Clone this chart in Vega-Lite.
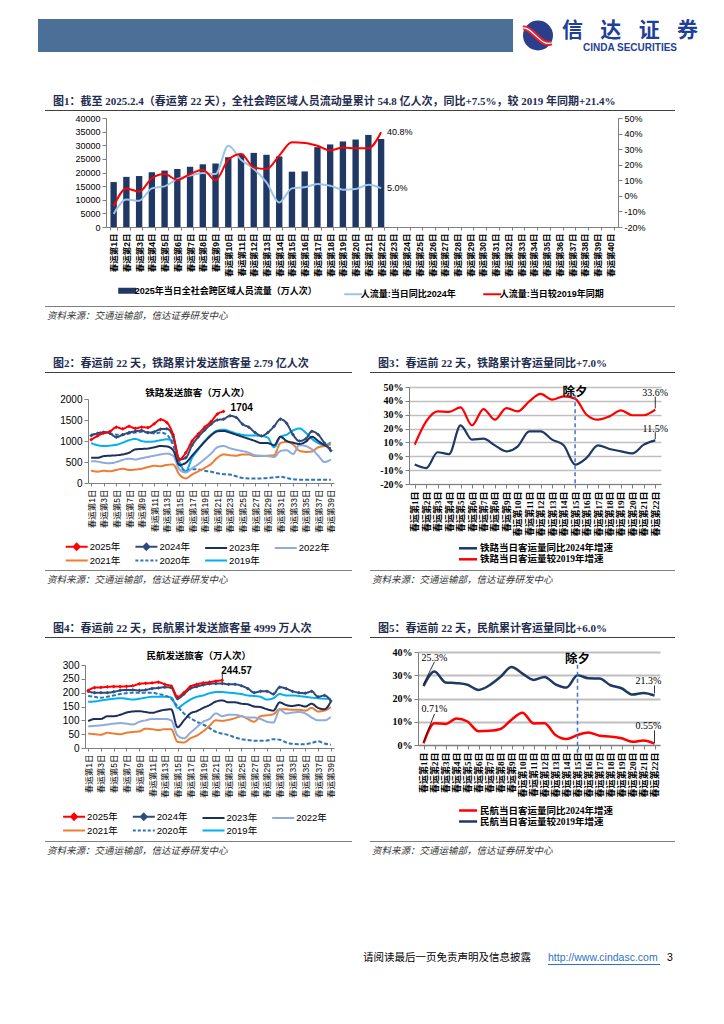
{
"$schema": "https://vega.github.io/schema/vega-lite/v6.json",
"padding": 0,
"background": "#ffffff",
"spacing": 0,
"resolve": {"scale": {"color": "independent", "strokeDash": "independent"}, "legend": {"color": "independent"}},
"config": {
  "view": {"stroke": null},
  "concat": {"spacing": 0},
  "font": "Liberation Sans, Noto Sans CJK SC",
  "axis": {"domainColor": "#7f7f7f", "tickColor": "#7f7f7f", "labelColor": "#000000", "grid": false, "labelFont": "Liberation Sans, Noto Sans CJK SC"},
  "legend": {"labelColor": "#000000", "labelFont": "Liberation Sans, Noto Sans CJK SC", "labelLimit": 400}
},
"datasets": {
  "fig1": [
    {"d":1,"flow":16500,"yoy":-11.6,"vs2019":-6.7},
    {"d":2,"flow":18400,"yoy":-2.4,"vs2019":4.8},
    {"d":3,"flow":18700,"yoy":-3.1,"vs2019":2.7},
    {"d":4,"flow":20100,"yoy":4.8,"vs2019":11.3},
    {"d":5,"flow":20700,"yoy":6.1,"vs2019":14.0},
    {"d":6,"flow":21300,"yoy":10.8,"vs2019":10.2},
    {"d":7,"flow":22100,"yoy":13.0,"vs2019":14.0},
    {"d":8,"flow":23000,"yoy":14.7,"vs2019":16.8},
    {"d":9,"flow":23300,"yoy":14.0,"vs2019":10.0},
    {"d":10,"flow":25600,"yoy":32.2,"vs2019":23.2},
    {"d":11,"flow":26900,"yoy":23.2,"vs2019":26.9},
    {"d":12,"flow":27200,"yoy":17.3,"vs2019":18.3},
    {"d":13,"flow":26500,"yoy":8.7,"vs2019":17.3},
    {"d":14,"flow":25900,"yoy":-4.2,"vs2019":25.8},
    {"d":15,"flow":20300,"yoy":4.8,"vs2019":34.4},
    {"d":16,"flow":20400,"yoy":5.5,"vs2019":34.0},
    {"d":17,"flow":29300,"yoy":7.6,"vs2019":32.2},
    {"d":18,"flow":30300,"yoy":6.5,"vs2019":29.2},
    {"d":19,"flow":31400,"yoy":4.0,"vs2019":31.0},
    {"d":20,"flow":32100,"yoy":4.4,"vs2019":30.5},
    {"d":21,"flow":33800,"yoy":7.2,"vs2019":30.5},
    {"d":22,"flow":32300,"yoy":5.0,"vs2019":40.8}
  ],
  "fig2": [
    {"d":1,"2019年":950,"2020年":1150,"2021年":300,"2022年":520,"2023年":600,"2024年":1130,"2025年":1030},
    {"d":2,"2019年":900,"2020年":1180,"2021年":270,"2022年":510,"2023年":600,"2024年":1180,"2025年":1120},
    {"d":3,"2019年":880,"2020年":1200,"2021年":290,"2022年":480,"2023年":640,"2024年":1210,"2025年":1190},
    {"d":4,"2019年":890,"2020年":1180,"2021年":280,"2022年":470,"2023年":650,"2024年":1180,"2025年":1230},
    {"d":5,"2019年":910,"2020年":1150,"2021年":310,"2022年":500,"2023年":660,"2024年":1090,"2025年":1330},
    {"d":6,"2019年":960,"2020年":1150,"2021年":340,"2022年":550,"2023年":680,"2024年":1150,"2025年":1290},
    {"d":7,"2019年":1020,"2020年":1180,"2021年":310,"2022年":580,"2023年":720,"2024年":1200,"2025年":1350},
    {"d":8,"2019年":1050,"2020年":1200,"2021年":320,"2022年":560,"2023年":800,"2024年":1230,"2025年":1300},
    {"d":9,"2019年":1000,"2020年":1220,"2021年":340,"2022年":590,"2023年":810,"2024年":1250,"2025年":1330},
    {"d":10,"2019年":980,"2020年":1200,"2021年":380,"2022年":620,"2023年":820,"2024年":1200,"2025年":1320},
    {"d":11,"2019年":990,"2020年":1180,"2021年":410,"2022年":650,"2023年":850,"2024年":1220,"2025年":1410},
    {"d":12,"2019年":1020,"2020年":1200,"2021年":400,"2022年":680,"2023年":880,"2024年":1280,"2025年":1510},
    {"d":13,"2019年":1040,"2020年":1150,"2021年":430,"2022年":700,"2023年":870,"2024年":1290,"2025年":1440},
    {"d":14,"2019年":1000,"2020年":900,"2021年":440,"2022年":650,"2023年":780,"2024年":1100,"2025年":1150},
    {"d":15,"2019年":500,"2020年":450,"2021年":200,"2022年":320,"2023年":430,"2024年":560,"2025年":560},
    {"d":16,"2019年":280,"2020年":280,"2021年":110,"2022年":250,"2023年":480,"2024年":600,"2025年":720},
    {"d":17,"2019年":600,"2020年":330,"2021年":200,"2022年":350,"2023年":650,"2024年":900,"2025年":1000},
    {"d":18,"2019年":800,"2020年":320,"2021年":280,"2022年":450,"2023年":820,"2024年":1100,"2025年":1170},
    {"d":19,"2019年":1000,"2020年":290,"2021年":360,"2022年":570,"2023年":980,"2024年":1260,"2025年":1330},
    {"d":20,"2019年":1150,"2020年":270,"2021年":450,"2022年":700,"2023年":1130,"2024年":1400,"2025年":1460},
    {"d":21,"2019年":1250,"2020年":230,"2021年":600,"2022年":850,"2023年":1230,"2024年":1500,"2025年":1640},
    {"d":22,"2019年":1270,"2020年":210,"2021年":680,"2022年":880,"2023年":1240,"2024年":1520,"2025年":1704},
    {"d":23,"2019年":1230,"2020年":200,"2021年":660,"2022年":830,"2023年":1200,"2024年":1600},
    {"d":24,"2019年":1180,"2020年":160,"2021年":650,"2022年":790,"2023年":1150,"2024年":1560},
    {"d":25,"2019年":1150,"2020年":120,"2021年":680,"2022年":760,"2023年":1100,"2024年":1400},
    {"d":26,"2019年":1130,"2020年":110,"2021年":680,"2022年":720,"2023年":1050,"2024年":1330},
    {"d":27,"2019年":1130,"2020年":110,"2021年":640,"2022年":660,"2023年":1000,"2024年":1200},
    {"d":28,"2019年":1120,"2020年":110,"2021年":640,"2022年":650,"2023年":950,"2024年":1120},
    {"d":29,"2019年":1080,"2020年":120,"2021年":650,"2022年":640,"2023年":950,"2024年":1200},
    {"d":30,"2019年":850,"2020年":130,"2021年":660,"2022年":620,"2023年":900,"2024年":1350},
    {"d":31,"2019年":1100,"2020年":150,"2021年":950,"2022年":760,"2023年":1100,"2024年":1520},
    {"d":32,"2019年":1150,"2020年":120,"2021年":980,"2022年":780,"2023年":1000,"2024年":1420},
    {"d":33,"2019年":1250,"2020年":90,"2021年":920,"2022年":690,"2023年":960,"2024年":1150},
    {"d":34,"2019年":1300,"2020年":80,"2021年":770,"2022年":900,"2023年":930,"2024年":1000},
    {"d":35,"2019年":1200,"2020年":80,"2021年":740,"2022年":880,"2023年":980,"2024年":1050},
    {"d":36,"2019年":1050,"2020年":80,"2021年":750,"2022年":800,"2023年":1100,"2024年":1230},
    {"d":37,"2019年":950,"2020年":80,"2021年":850,"2022年":650,"2023年":1000,"2024年":1150},
    {"d":38,"2019年":900,"2020年":80,"2021年":880,"2022年":500,"2023年":900,"2024年":950},
    {"d":39,"2019年":970,"2020年":80,"2021年":920,"2022年":560,"2023年":820,"2024年":770}
  ],
  "fig3": [
    {"d":1,"yoy":-6.0,"vs2019":8.4},{"d":2,"yoy":-8.5,"vs2019":25.2},{"d":3,"yoy":2.9,"vs2019":32.4},
    {"d":4,"yoy":1.6,"vs2019":32.0},{"d":5,"yoy":22.3,"vs2019":35.3},{"d":6,"yoy":12.0,"vs2019":22.3},
    {"d":7,"yoy":12.7,"vs2019":34.1},{"d":8,"yoy":7.9,"vs2019":26.4},{"d":9,"yoy":3.6,"vs2019":34.8},
    {"d":10,"yoy":7.2,"vs2019":32.4},{"d":11,"yoy":18.0,"vs2019":39.7},{"d":12,"yoy":18.0,"vs2019":45.0},
    {"d":13,"yoy":12.0,"vs2019":40.9},{"d":14,"yoy":7.9,"vs2019":43.3},{"d":15,"yoy":-6.0,"vs2019":41.6},
    {"d":16,"yoy":-1.2,"vs2019":30.0},{"d":17,"yoy":7.9,"vs2019":26.4},{"d":18,"yoy":5.3,"vs2019":28.8},
    {"d":19,"yoy":3.6,"vs2019":33.2},{"d":20,"yoy":2.1,"vs2019":29.6},{"d":21,"yoy":8.4,"vs2019":29.6},
    {"d":22,"yoy":11.5,"vs2019":33.6}
  ],
  "fig4": [
    {"d":1,"2019年":167,"2020年":188,"2021年":52,"2022年":78,"2023年":97,"2024年":205,"2025年":208},
    {"d":2,"2019年":168,"2020年":185,"2021年":50,"2022年":80,"2023年":105,"2024年":200,"2025年":218},
    {"d":3,"2019年":172,"2020年":182,"2021年":48,"2022年":82,"2023年":105,"2024年":200,"2025年":219},
    {"d":4,"2019年":175,"2020年":185,"2021年":55,"2022年":85,"2023年":115,"2024年":200,"2025年":221},
    {"d":5,"2019年":178,"2020年":190,"2021年":52,"2022年":88,"2023年":115,"2024年":203,"2025年":222},
    {"d":6,"2019年":180,"2020年":195,"2021年":50,"2022年":90,"2023年":120,"2024年":208,"2025年":222},
    {"d":7,"2019年":178,"2020年":198,"2021年":55,"2022年":88,"2023年":128,"2024年":210,"2025年":223},
    {"d":8,"2019年":175,"2020年":200,"2021年":58,"2022年":85,"2023年":132,"2024年":210,"2025年":225},
    {"d":9,"2019年":178,"2020年":200,"2021年":60,"2022年":95,"2023年":133,"2024年":208,"2025年":232},
    {"d":10,"2019年":182,"2020年":200,"2021年":70,"2022年":100,"2023年":130,"2024年":210,"2025年":234},
    {"d":11,"2019年":185,"2020年":200,"2021年":68,"2022年":105,"2023年":127,"2024年":215,"2025年":235},
    {"d":12,"2019年":185,"2020年":195,"2021年":65,"2022年":105,"2023年":133,"2024年":217,"2025年":238},
    {"d":13,"2019年":185,"2020年":190,"2021年":68,"2022年":105,"2023年":138,"2024年":220,"2025年":230},
    {"d":14,"2019年":183,"2020年":178,"2021年":68,"2022年":100,"2023年":140,"2024年":218,"2025年":224},
    {"d":15,"2019年":145,"2020年":150,"2021年":22,"2022年":45,"2023年":75,"2024年":178,"2025年":185},
    {"d":16,"2019年":160,"2020年":125,"2021年":20,"2022年":35,"2023年":100,"2024年":195,"2025年":200},
    {"d":17,"2019年":175,"2020年":108,"2021年":35,"2022年":55,"2023年":125,"2024年":215,"2025年":222},
    {"d":18,"2019年":185,"2020年":95,"2021年":45,"2022年":75,"2023年":133,"2024年":222,"2025年":230},
    {"d":19,"2019年":190,"2020年":85,"2021年":60,"2022年":95,"2023年":145,"2024年":228,"2025年":235},
    {"d":20,"2019年":198,"2020年":72,"2021年":80,"2022年":105,"2023年":155,"2024年":232,"2025年":238},
    {"d":21,"2019年":202,"2020年":58,"2021年":100,"2022年":125,"2023年":168,"2024年":233,"2025年":242},
    {"d":22,"2019年":202,"2020年":52,"2021年":98,"2022年":115,"2023年":172,"2024年":233,"2025年":244.57},
    {"d":23,"2019年":200,"2020年":47,"2021年":102,"2022年":120,"2023年":165,"2024年":230},
    {"d":24,"2019年":198,"2020年":38,"2021年":108,"2022年":120,"2023年":165,"2024年":230},
    {"d":25,"2019年":195,"2020年":32,"2021年":115,"2022年":115,"2023年":160,"2024年":225},
    {"d":26,"2019年":190,"2020年":29,"2021年":105,"2022年":110,"2023年":158,"2024年":215},
    {"d":27,"2019年":188,"2020年":26,"2021年":95,"2022年":110,"2023年":150,"2024年":200},
    {"d":28,"2019年":185,"2020年":26,"2021年":115,"2022年":105,"2023年":148,"2024年":205},
    {"d":29,"2019年":175,"2020年":27,"2021年":118,"2022年":95,"2023年":140,"2024年":205},
    {"d":30,"2019年":180,"2020年":32,"2021年":122,"2022年":92,"2023年":135,"2024年":195},
    {"d":31,"2019年":195,"2020年":30,"2021年":140,"2022年":138,"2023年":165,"2024年":220},
    {"d":32,"2019年":190,"2020年":20,"2021年":140,"2022年":125,"2023年":155,"2024年":215},
    {"d":33,"2019年":190,"2020年":15,"2021年":138,"2022年":128,"2023年":152,"2024年":205},
    {"d":34,"2019年":188,"2020年":14,"2021年":138,"2022年":130,"2023年":155,"2024年":200},
    {"d":35,"2019年":185,"2020年":14,"2021年":135,"2022年":125,"2023年":150,"2024年":198},
    {"d":36,"2019年":182,"2020年":18,"2021年":145,"2022年":110,"2023年":160,"2024年":205},
    {"d":37,"2019年":180,"2020年":24,"2021年":132,"2022年":100,"2023年":145,"2024年":185},
    {"d":38,"2019年":178,"2020年":16,"2021年":135,"2022年":100,"2023年":140,"2024年":190},
    {"d":39,"2019年":178,"2020年":12,"2021年":148,"2022年":112,"2023年":168,"2024年":170}
  ],
  "fig5": [
    {"d":1,"yoy":0.71,"vs2019":25.3},{"d":2,"yoy":9.4,"vs2019":31.6},{"d":3,"yoy":9.0,"vs2019":26.9},
    {"d":4,"yoy":11.4,"vs2019":26.6},{"d":5,"yoy":10.1,"vs2019":25.9},{"d":6,"yoy":5.9,"vs2019":23.7},
    {"d":7,"yoy":6.1,"vs2019":25.7},{"d":8,"yoy":6.9,"vs2019":29.3},{"d":9,"yoy":10.9,"vs2019":33.6},
    {"d":10,"yoy":13.9,"vs2019":30.7},{"d":11,"yoy":9.3,"vs2019":28.0},{"d":12,"yoy":9.4,"vs2019":29.3},
    {"d":13,"yoy":4.3,"vs2019":26.1},{"d":14,"yoy":2.6,"vs2019":24.7},{"d":15,"yoy":4.3,"vs2019":30.0},
    {"d":16,"yoy":5.4,"vs2019":28.7},{"d":17,"yoy":4.0,"vs2019":28.6},{"d":18,"yoy":3.6,"vs2019":25.7},
    {"d":19,"yoy":2.9,"vs2019":24.4},{"d":20,"yoy":1.4,"vs2019":21.7},{"d":21,"yoy":1.9,"vs2019":22.4},
    {"d":22,"yoy":0.55,"vs2019":21.3}
  ]
},
"vconcat": [
  {"width": 1, "height": 17, "data": {"values": []}, "mark": "point"},
  {"hconcat": [
    {"width": 38, "height": 33, "data": {"values": []}, "mark": "point"},
    {"width": 475, "height": 33, "data": {"values": []}, "mark": "point", "view": {"fill": "#4b6f96", "stroke": null}},
    {"width": 32, "height": 33, "data": {"values": [{}]}, "layer": [
      {"mark": {"type": "point", "shape": "circle", "size": 900, "filled": true, "color": "#2a3e8c", "opacity": 1}},
      {"mark": {"type": "point", "shape": "M-1.0,-0.5C-0.4,-0.6 0.15,0.75 0.9,0.5", "size": 900, "filled": false, "stroke": "#e8202a", "strokeWidth": 5, "opacity": 1}},
      {"mark": {"type": "point", "shape": "M-1.0,-0.5C-0.4,-0.6 0.15,0.75 0.9,0.5", "size": 900, "filled": false, "stroke": "#ffffff", "strokeWidth": 1.2, "opacity": 1}}
    ]},
    {"vconcat": [
      {"width": 134, "height": 24, "data": {"values": [{"c": "信"}, {"c": "达"}, {"c": "证"}, {"c": "券"}]},
       "mark": {"type": "text", "fontSize": 21, "fontWeight": "bold", "font": "Noto Sans CJK SC", "color": "#1f3f98"},
       "encoding": {"x": {"field": "c", "type": "nominal", "sort": null, "axis": null, "scale": {"type": "point", "padding": 0.25}}, "text": {"field": "c"}}},
      {"width": 134, "height": 10, "data": {"values": [{"t": "CINDA SECURITIES"}]},
       "mark": {"type": "text", "fontSize": 10, "fontWeight": "bold", "font": "Liberation Sans", "color": "#1f3f98"},
       "encoding": {"text": {"field": "t"}}}
    ], "resolve": {"scale": {"x": "independent"}}}
  ], "resolve": {"scale": {"color": "independent"}}},
  {"width": 1, "height": 42, "data": {"values": []}, "mark": "point"},
  {"hconcat": [
    {"width": 45, "height": 1, "data": {"values": []}, "mark": "point"},
    {"width": 630, "height": 1, "data": {"values": []}, "mark": "point", "view": {"fill": "#404040", "stroke": null},
     "title": {"text": "图1：截至 2025.2.4（春运第 22 天），全社会跨区域人员流动量累计 54.8 亿人次，同比+7.5%，较 2019 年同期+21.4%", "anchor": "start", "offset": 3, "dx": 8, "font": "Liberation Serif, Noto Sans CJK SC", "fontSize": 11, "fontWeight": "bold", "color": "#1f2d4f"}}
  ]},
  {"width": 1, "height": 3, "data": {"values": []}, "mark": "point"},
  {"hconcat": [
    {"width": 74, "height": 1, "data": {"values": []}, "mark": "point"},
    {"width": 512, "height": 109,
     "layer": [
       {"data": {"name": "fig1"},
        "mark": {"type": "bar"},
        "encoding": {
          "x": {"field": "d", "type": "ordinal", "title": null,
                "scale": {"domain": [1,2,3,4,5,6,7,8,9,10,11,12,13,14,15,16,17,18,19,20,21,22,23,24,25,26,27,28,29,30,31,32,33,34,35,36,37,38,39,40], "paddingInner": 0.5, "paddingOuter": 0.35},
                "axis": {"labelExpr": "isValid(datum.value) ? '春运第' + datum.value + '日' : ''", "labelAngle": -90, "labelFontSize": 8.5, "labelFontWeight": "bold", "tickBand": "extent", "tickSize": 3, "labelPadding": 3}},
          "y": {"field": "flow", "type": "quantitative", "title": null,
                "scale": {"domain": [0, 40000], "nice": false},
                "axis": {"values": [0,5000,10000,15000,20000,25000,30000,35000,40000], "format": "d", "labelFontSize": 9, "tickSize": 4, "labelPadding": 2}},
          "color": {"datum": "flow", "type": "nominal", "scale": {"domain": ["flow", "yoy", "vs2019"], "range": ["#1f3864", "#9dc3e6", "#ff0000"]}}
        }},
       {"layer": [
          {"data": {"name": "fig1"},
           "transform": [{"fold": ["yoy", "vs2019"], "as": ["series", "value"]}],
           "mark": {"type": "line", "strokeWidth": 2, "interpolate": "monotone"},
           "encoding": {
             "x": {"field": "d", "type": "ordinal"},
             "y": {"field": "value", "type": "quantitative"},
             "color": {"field": "series", "type": "nominal",
                       "scale": {"domain": ["flow", "yoy", "vs2019"], "range": ["#1f3864", "#9dc3e6", "#ff0000"]},
                       "legend": {"orient": "none", "legendX": 16.7, "legendY": 168, "direction": "horizontal", "title": null,
                                  "symbolType": "stroke", "symbolSize": 324, "symbolStrokeWidth": 2, "labelFontSize": 9, "labelFontWeight": "bold",
                                  "columnPadding": 22, "labelOffset": 3, "labelLimit": 400,
                                  "labelExpr": "datum.label === 'flow' ? '2025年当日全社会跨区域人员流量（万人次）' : datum.label === 'yoy' ? '人流量:当日同比2024年' : '人流量:当日较2019年同期'",
                                  "encode": {"symbols": {"update": {
                                    "strokeWidth": {"signal": "datum.value === 'flow' ? 6 : 2"},
                                    "stroke": {"signal": "datum.value === 'flow' ? '#1f3864' : datum.value === 'yoy' ? '#9dc3e6' : '#ff0000'"},
                                    "fill": {"value": "transparent"}}}}}}
           }},
          {"data": {"values": [{"d": 22, "value": 40.8, "t": "40.8%"}, {"d": 22, "value": 5.0, "t": "5.0%"}]},
           "mark": {"type": "text", "align": "left", "dx": 6, "fontSize": 9, "color": "#000000"},
           "encoding": {
             "x": {"field": "d", "type": "ordinal"},
             "y": {"field": "value", "type": "quantitative"},
             "text": {"field": "t"}}}
        ],
        "encoding": {"y": {"field": "value", "type": "quantitative", "title": null,
                           "scale": {"domain": [-20, 50], "nice": false, "zero": false},
                           "axis": {"orient": "right", "values": [-20,-10,0,10,20,30,40,50], "labelExpr": "datum.value + '%'", "labelFontSize": 9, "tickSize": 4, "labelPadding": 2}}}}
     ],
     "resolve": {"scale": {"y": "independent"}}
    }
  ], "resolve": {"scale": {"color": "independent"}, "legend": {"color": "independent"}}},
  {"width": 1, "height": 3, "data": {"values": []}, "mark": "point"},
  {"hconcat": [
    {"width": 45, "height": 1, "data": {"values": []}, "mark": "point"},
    {"width": 630, "height": 1, "data": {"values": []}, "mark": "point", "view": {"fill": "#7f7f7f", "stroke": null},
     "title": {"text": "资料来源：交通运输部，信达证券研发中心", "orient": "bottom", "anchor": "start", "offset": 4, "dx": 2, "font": "Liberation Serif, Noto Sans CJK SC", "fontSize": 9.5, "fontStyle": "italic", "fontWeight": "normal", "color": "#333333"}}
  ]},
  {"width": 1, "height": 37, "data": {"values": []}, "mark": "point"},
  {"hconcat": [
    {"width": 45, "height": 1, "data": {"values": []}, "mark": "point"},
    {"width": 307, "height": 1, "data": {"values": []}, "mark": "point", "view": {"fill": "#404040", "stroke": null},
     "title": {"text": "图2：春运前 22 天，铁路累计发送旅客量 2.79 亿人次", "anchor": "start", "offset": 3, "dx": 8, "font": "Liberation Serif, Noto Sans CJK SC", "fontSize": 11, "fontWeight": "bold", "color": "#1f2d4f"}},
    {"width": 18, "height": 1, "data": {"values": []}, "mark": "point"},
    {"width": 305, "height": 1, "data": {"values": []}, "mark": "point", "view": {"fill": "#404040", "stroke": null},
     "title": {"text": "图3：春运前 22 天，铁路累计客运量同比+7.0%", "anchor": "start", "offset": 3, "dx": 8, "font": "Liberation Serif, Noto Sans CJK SC", "fontSize": 11, "fontWeight": "bold", "color": "#1f2d4f"}}
  ]},
  {"width": 1, "height": 2, "data": {"values": []}, "mark": "point"},
  {"hconcat": [
    {"width": 58.5, "height": 1, "data": {"values": []}, "mark": "point"},
    {"vconcat": [
      {"width": 1, "height": 12, "data": {"values": []}, "mark": "point"},
      {"width": 246, "height": 84,
       "title": {"text": "铁路发送旅客（万人次）", "fontSize": 9.5, "fontWeight": "bold", "offset": -3, "frame": "bounds", "anchor": "middle", "color": "#000000"},
       "data": {"name": "fig2"},
       "transform": [{"fold": ["2019年", "2020年", "2021年", "2022年", "2023年", "2024年", "2025年"], "as": ["series", "value"]}, {"filter": "isValid(datum.value)"}],
       "encoding": {
         "x": {"field": "d", "type": "ordinal", "title": null,
               "scale": {"type": "point", "padding": 0.5, "domain": [1,2,3,4,5,6,7,8,9,10,11,12,13,14,15,16,17,18,19,20,21,22,23,24,25,26,27,28,29,30,31,32,33,34,35,36,37,38,39]},
               "axis": {"values": [1,3,5,7,9,11,13,15,17,19,21,23,25,27,29,31,33,35,37,39], "labelExpr": "'春运第' + datum.value + '日'", "labelAngle": -90, "labelFontSize": 8.5, "tickSize": 3, "labelPadding": 3}},
         "y": {"field": "value", "type": "quantitative", "title": null,
               "scale": {"domain": [0, 2000], "nice": false},
               "axis": {"values": [0, 500, 1000, 1500, 2000], "format": "d", "labelFontSize": 10, "tickSize": 4, "labelPadding": 2}},
         "color": {"field": "series", "type": "nominal",
                   "scale": {"domain": ["2025年", "2024年", "2023年", "2022年", "2021年", "2020年", "2019年"], "range": ["#ff0000", "#2f4b7c", "#1c2f5a", "#8faadc", "#ed7d31", "#2e75b6", "#00b0f0"]},
                   "legend": {"orient": "none", "legendX": -17.8, "legendY": 165, "direction": "horizontal", "columns": 4, "title": null,
                              "symbolType": "M-2,0H2", "symbolSize": 121, "symbolStrokeWidth": 2, "labelFontSize": 9.5, "columnPadding": 9.7, "rowPadding": -2, "labelOffset": 6.5,
                              "encode": {"symbols": {"update": {
                                "shape": {"signal": "datum.value === '2025年' || datum.value === '2024年' ? 'M-2,0H2M0,-0.55L0.55,0L0,0.55L-0.55,0Z' : 'M-2,0H2'"},
                                "strokeDash": {"signal": "datum.value === '2020年' ? [3, 2] : [1, 0]"},
                                "stroke": {"signal": "({'2025年':'#ff0000','2024年':'#2f4b7c','2023年':'#1c2f5a','2022年':'#8faadc','2021年':'#ed7d31','2020年':'#2e75b6','2019年':'#00b0f0'})[datum.value]"},
                                "fill": {"signal": "({'2025年':'#ff0000','2024年':'#2f4b7c','2023年':'#1c2f5a','2022年':'#8faadc','2021年':'#ed7d31','2020年':'#2e75b6','2019年':'#00b0f0'})[datum.value]"},
                                "strokeWidth": {"value": 2}}}}}}
       },
       "layer": [
         {"mark": {"type": "line", "strokeWidth": 2, "interpolate": "monotone"},
          "encoding": {"strokeDash": {"condition": {"test": "datum.series === '2020年'", "value": [4, 2]}, "value": [1, 0]}}},
         {"transform": [{"filter": "datum.series === '2025年' || datum.series === '2024年'"}],
          "mark": {"type": "point", "shape": "diamond", "filled": true, "size": 14, "opacity": 1}},
         {"data": {"values": [{"d": 22, "value": 1704, "t": "1704"}]},
          "mark": {"type": "text", "align": "left", "dx": 7, "dy": -3, "fontSize": 10, "fontWeight": "bold", "color": "#000000"},
          "encoding": {"text": {"field": "t"}, "color": {"value": "#000000"}}}
       ]
      }
    ]},
    {"width": 42.7, "height": 1, "data": {"values": []}, "mark": "point"},
    {"vconcat": [
      {"width": 1, "height": 6.1, "data": {"values": []}, "mark": "point"},
      {"width": 252, "height": 97,
       "data": {"name": "fig3"},
       "transform": [{"fold": ["yoy", "vs2019"], "as": ["series", "value"]}],
       "encoding": {
         "x": {"field": "d", "type": "ordinal", "title": null,
               "scale": {"type": "point", "padding": 0.5, "domain": [1,2,3,4,5,6,7,8,9,10,11,12,13,14,15,16,17,18,19,20,21,22]},
               "axis": {"labelExpr": "'春运第' + datum.value + '日'", "labelAngle": -90, "labelFont": "Liberation Serif, Noto Sans CJK SC", "labelFontSize": 9, "labelFontWeight": "bold", "tickSize": 4, "labelPadding": 3}},
         "y": {"field": "value", "type": "quantitative", "title": null,
               "scale": {"domain": [-20, 50], "nice": false, "zero": false},
               "axis": {"values": [-20,-10,0,10,20,30,40,50], "labelExpr": "datum.value + '%'", "grid": true, "gridColor": "#bfbfbf", "gridWidth": 1.5,
                        "labelFont": "Liberation Serif, Noto Sans CJK SC", "labelFontSize": 10, "labelFontWeight": "bold", "tickSize": 4, "labelPadding": 2}}
       },
       "layer": [
         {"mark": {"type": "line", "strokeWidth": 2.2, "interpolate": "monotone"},
          "encoding": {"color": {"field": "series", "type": "nominal",
                                 "scale": {"domain": ["yoy", "vs2019"], "range": ["#1f3864", "#ff0000"]},
                                 "legend": {"orient": "none", "legendX": 53, "legendY": 167.3, "direction": "vertical", "title": null,
                                            "symbolType": "M-2,0H2", "symbolSize": 81, "symbolStrokeWidth": 2.5,
                                            "labelFont": "Liberation Serif, Noto Sans CJK SC", "labelFontSize": 9.5, "labelFontWeight": "bold", "rowPadding": 0, "labelOffset": 6,
                                            "labelExpr": "datum.label === 'yoy' ? '铁路当日客运量同比2024年增速' : '铁路当日客运量较2019年增速'"}}}},
         {"data": {"values": [{"d": 15, "value": 44, "value2": -22}]},
          "mark": {"type": "rule", "color": "#4472c4", "strokeDash": [4, 3], "strokeWidth": 1.5},
          "encoding": {"y2": {"field": "value2"}}},
         {"data": {"values": [{"d": 15, "value": 46.3, "t": "除夕"}]},
          "mark": {"type": "text", "fontSize": 12.5, "fontWeight": "bold", "color": "#000000"},
          "encoding": {"text": {"field": "t"}}},
         {"data": {"values": [{"d": 22, "value": 45.7, "t": "33.6%"}, {"d": 22, "value": 20, "t": "11.5%"}]},
          "mark": {"type": "text", "fontSize": 10, "font": "Liberation Serif", "color": "#000000"},
          "encoding": {"text": {"field": "t"}}},
         {"data": {"values": [{"d": 22, "value": 34.5, "value2": 43}, {"d": 22, "value": 12.3, "value2": 17.4}]},
          "mark": {"type": "rule", "color": "#000000", "strokeWidth": 0.8},
          "encoding": {"y2": {"field": "value2"}}}
       ]
      }
    ]}
  ], "resolve": {"scale": {"color": "independent", "strokeDash": "independent"}, "legend": {"color": "independent"}}},
  {"width": 1, "height": 4.5, "data": {"values": []}, "mark": "point"},
  {"hconcat": [
    {"width": 45, "height": 1, "data": {"values": []}, "mark": "point"},
    {"width": 307, "height": 1, "data": {"values": []}, "mark": "point", "view": {"fill": "#7f7f7f", "stroke": null},
     "title": {"text": "资料来源：交通运输部，信达证券研发中心", "orient": "bottom", "anchor": "start", "offset": 4, "dx": 2, "font": "Liberation Serif, Noto Sans CJK SC", "fontSize": 9.5, "fontStyle": "italic", "fontWeight": "normal", "color": "#333333"}},
    {"width": 18, "height": 1, "data": {"values": []}, "mark": "point"},
    {"width": 305, "height": 1, "data": {"values": []}, "mark": "point", "view": {"fill": "#7f7f7f", "stroke": null},
     "title": {"text": "资料来源：交通运输部，信达证券研发中心", "orient": "bottom", "anchor": "start", "offset": 4, "dx": 2, "font": "Liberation Serif, Noto Sans CJK SC", "fontSize": 9.5, "fontStyle": "italic", "fontWeight": "normal", "color": "#333333"}}
  ]},
  {"width": 1, "height": 38, "data": {"values": []}, "mark": "point"},
  {"hconcat": [
    {"width": 45, "height": 1, "data": {"values": []}, "mark": "point"},
    {"width": 307, "height": 1, "data": {"values": []}, "mark": "point", "view": {"fill": "#404040", "stroke": null},
     "title": {"text": "图4：春运前 22 天，民航累计发送旅客量 4999 万人次", "anchor": "start", "offset": 3, "dx": 8, "font": "Liberation Serif, Noto Sans CJK SC", "fontSize": 11, "fontWeight": "bold", "color": "#1f2d4f"}},
    {"width": 18, "height": 1, "data": {"values": []}, "mark": "point"},
    {"width": 305, "height": 1, "data": {"values": []}, "mark": "point", "view": {"fill": "#404040", "stroke": null},
     "title": {"text": "图5：春运前 22 天，民航累计客运量同比+6.0%", "anchor": "start", "offset": 3, "dx": 8, "font": "Liberation Serif, Noto Sans CJK SC", "fontSize": 11, "fontWeight": "bold", "color": "#1f2d4f"}}
  ]},
  {"width": 1, "height": 2, "data": {"values": []}, "mark": "point"},
  {"hconcat": [
    {"width": 61.6, "height": 1, "data": {"values": []}, "mark": "point"},
    {"vconcat": [
      {"width": 1, "height": 10, "data": {"values": []}, "mark": "point"},
      {"width": 249, "height": 83,
       "title": {"text": "民航发送旅客（万人次）", "fontSize": 9.5, "fontWeight": "bold", "offset": 0, "frame": "bounds", "anchor": "middle", "color": "#000000"},
       "data": {"name": "fig4"},
       "transform": [{"fold": ["2019年", "2020年", "2021年", "2022年", "2023年", "2024年", "2025年"], "as": ["series", "value"]}, {"filter": "isValid(datum.value)"}],
       "encoding": {
         "x": {"field": "d", "type": "ordinal", "title": null,
               "scale": {"type": "point", "padding": 0.5, "domain": [1,2,3,4,5,6,7,8,9,10,11,12,13,14,15,16,17,18,19,20,21,22,23,24,25,26,27,28,29,30,31,32,33,34,35,36,37,38,39]},
               "axis": {"values": [1,3,5,7,9,11,13,15,17,19,21,23,25,27,29,31,33,35,37,39], "labelExpr": "'春运第' + datum.value + '日'", "labelAngle": -90, "labelFontSize": 8.5, "tickSize": 3, "labelPadding": 3}},
         "y": {"field": "value", "type": "quantitative", "title": null,
               "scale": {"domain": [0, 300], "nice": false},
               "axis": {"values": [0, 50, 100, 150, 200, 250, 300], "format": "d", "labelFontSize": 10, "tickSize": 4, "labelPadding": 2}},
         "color": {"field": "series", "type": "nominal",
                   "scale": {"domain": ["2025年", "2024年", "2023年", "2022年", "2021年", "2020年", "2019年"], "range": ["#ff0000", "#2f4b7c", "#1c2f5a", "#8faadc", "#ed7d31", "#2e75b6", "#00b0f0"]},
                   "legend": {"orient": "none", "legendX": -17.4, "legendY": 170, "direction": "horizontal", "columns": 4, "title": null,
                              "symbolType": "M-2,0H2", "symbolSize": 121, "symbolStrokeWidth": 2, "labelFontSize": 9.5, "columnPadding": 9.7, "rowPadding": -2, "labelOffset": 6.5,
                              "encode": {"symbols": {"update": {
                                "shape": {"signal": "datum.value === '2025年' || datum.value === '2024年' ? 'M-2,0H2M0,-0.55L0.55,0L0,0.55L-0.55,0Z' : 'M-2,0H2'"},
                                "strokeDash": {"signal": "datum.value === '2020年' ? [3, 2] : [1, 0]"},
                                "stroke": {"signal": "({'2025年':'#ff0000','2024年':'#2f4b7c','2023年':'#1c2f5a','2022年':'#8faadc','2021年':'#ed7d31','2020年':'#2e75b6','2019年':'#00b0f0'})[datum.value]"},
                                "fill": {"signal": "({'2025年':'#ff0000','2024年':'#2f4b7c','2023年':'#1c2f5a','2022年':'#8faadc','2021年':'#ed7d31','2020年':'#2e75b6','2019年':'#00b0f0'})[datum.value]"},
                                "strokeWidth": {"value": 2}}}}}}
       },
       "layer": [
         {"mark": {"type": "line", "strokeWidth": 2, "interpolate": "monotone"},
          "encoding": {"strokeDash": {"condition": {"test": "datum.series === '2020年'", "value": [4, 2]}, "value": [1, 0]}}},
         {"transform": [{"filter": "datum.series === '2025年' || datum.series === '2024年'"}],
          "mark": {"type": "point", "shape": "diamond", "filled": true, "size": 14, "opacity": 1}},
         {"data": {"values": [{"d": 22, "value": 277, "t": "244.57"}]},
          "mark": {"type": "text", "align": "left", "dx": -1, "fontSize": 10, "fontWeight": "bold", "color": "#000000"},
          "encoding": {"text": {"field": "t"}, "color": {"value": "#000000"}}},
         {"data": {"values": [{"d": 22, "value": 248, "value2": 268}]},
          "mark": {"type": "rule", "color": "#000000", "strokeWidth": 0.8},
          "encoding": {"y2": {"field": "value2"}, "color": {"value": "#000000"}}}
       ]
      }
    ]},
    {"width": 55.7, "height": 1, "data": {"values": []}, "mark": "point"},
    {"vconcat": [
      {"width": 1, "height": 7, "data": {"values": []}, "mark": "point"},
      {"width": 242, "height": 93,
       "data": {"name": "fig5"},
       "transform": [{"fold": ["vs2019", "yoy"], "as": ["series", "value"]}],
       "encoding": {
         "x": {"field": "d", "type": "ordinal", "title": null,
               "scale": {"type": "point", "padding": 0.5, "domain": [1,2,3,4,5,6,7,8,9,10,11,12,13,14,15,16,17,18,19,20,21,22]},
               "axis": {"labelExpr": "'春运第' + datum.value + '日'", "labelAngle": -90, "labelFont": "Liberation Serif, Noto Sans CJK SC", "labelFontSize": 9, "labelFontWeight": "bold", "tickSize": 4, "labelPadding": 3}},
         "y": {"field": "value", "type": "quantitative", "title": null,
               "scale": {"domain": [0, 40], "nice": false, "zero": false},
               "axis": {"values": [0, 10, 20, 30, 40], "labelExpr": "datum.value + '%'", "grid": true, "gridColor": "#bfbfbf", "gridWidth": 2,
                        "labelFont": "Liberation Serif, Noto Sans CJK SC", "labelFontSize": 10, "labelFontWeight": "bold", "tickSize": 4, "labelPadding": 2}}
       },
       "layer": [
         {"mark": {"type": "line", "strokeWidth": 2.5, "interpolate": "monotone"},
          "encoding": {"color": {"field": "series", "type": "nominal",
                                 "scale": {"domain": ["yoy", "vs2019"], "range": ["#ff0000", "#1f3864"]},
                                 "legend": {"orient": "none", "legendX": 44.1, "legendY": 164.5, "direction": "vertical", "title": null,
                                            "symbolType": "M-2,0H2", "symbolSize": 81, "symbolStrokeWidth": 2.5,
                                            "labelFont": "Liberation Serif, Noto Sans CJK SC", "labelFontSize": 9.5, "labelFontWeight": "bold", "rowPadding": 0, "labelOffset": 6,
                                            "labelExpr": "datum.label === 'yoy' ? '民航当日客运量同比2024年增速' : '民航当日客运量较2019年增速'"}}}},
         {"data": {"values": [{"d": 15, "value": 34.5, "value2": -5}]},
          "mark": {"type": "rule", "color": "#4472c4", "strokeDash": [4, 3], "strokeWidth": 1.5},
          "encoding": {"y2": {"field": "value2"}}},
         {"data": {"values": [{"d": 15, "value": 36.9, "t": "除夕"}]},
          "mark": {"type": "text", "fontSize": 12.5, "fontWeight": "bold", "color": "#000000"},
          "encoding": {"text": {"field": "t"}}},
         {"data": {"values": [{"d": 2, "value": 37.6, "t": "25.3%"}, {"d": 2, "value": 15.4, "t": "0.71%"}]},
          "mark": {"type": "text", "fontSize": 10, "font": "Liberation Serif", "color": "#000000"},
          "encoding": {"text": {"field": "t"}}},
         {"data": {"values": [{"d": 22, "value": 27.6, "t": "21.3%"}, {"d": 22, "value": 8.2, "t": "0.55%"}]},
          "mark": {"type": "text", "fontSize": 10, "dx": -6, "font": "Liberation Serif", "color": "#000000"},
          "encoding": {"text": {"field": "t"}}},
         {"data": {"values": [{"d": 1, "d2": 2, "value": 26.2, "value2": 35.8}, {"d": 1, "d2": 2, "value": 1.2, "value2": 13.4}, {"d": 22, "d2": 22, "value": 22.2, "value2": 25.6}, {"d": 22, "d2": 22, "value": 1, "value2": 6.3}]},
          "mark": {"type": "rule", "color": "#000000", "strokeWidth": 0.8},
          "encoding": {"x2": {"field": "d2"}, "y2": {"field": "value2"}}}
       ]
      }
    ]}
  ], "resolve": {"scale": {"color": "independent", "strokeDash": "independent"}, "legend": {"color": "independent"}}},
  {"width": 1, "height": 5.5, "data": {"values": []}, "mark": "point"},
  {"hconcat": [
    {"width": 45, "height": 1, "data": {"values": []}, "mark": "point"},
    {"width": 307, "height": 1, "data": {"values": []}, "mark": "point", "view": {"fill": "#7f7f7f", "stroke": null},
     "title": {"text": "资料来源：交通运输部，信达证券研发中心", "orient": "bottom", "anchor": "start", "offset": 4, "dx": 2, "font": "Liberation Serif, Noto Sans CJK SC", "fontSize": 9.5, "fontStyle": "italic", "fontWeight": "normal", "color": "#333333"}},
    {"width": 18, "height": 1, "data": {"values": []}, "mark": "point"},
    {"width": 305, "height": 1, "data": {"values": []}, "mark": "point", "view": {"fill": "#7f7f7f", "stroke": null},
     "title": {"text": "资料来源：交通运输部，信达证券研发中心", "orient": "bottom", "anchor": "start", "offset": 4, "dx": 2, "font": "Liberation Serif, Noto Sans CJK SC", "fontSize": 9.5, "fontStyle": "italic", "fontWeight": "normal", "color": "#333333"}}
  ]},
  {"width": 1, "height": 96, "data": {"values": []}, "mark": "point"},
  {"hconcat": [
    {"width": 363, "height": 1, "data": {"values": []}, "mark": "point"},
    {"width": 185, "height": 1, "data": {"values": []}, "mark": "point",
     "title": {"text": "请阅读最后一页免责声明及信息披露", "anchor": "start", "offset": 1, "fontSize": 10.5, "font": "Liberation Serif, Noto Sans CJK SC", "fontWeight": "normal", "color": "#000000"}},
    {"width": 112, "height": 1, "data": {"values": []}, "mark": "point", "view": {"fill": "#3070c8", "stroke": null},
     "title": {"text": "http://www.cindasc.com", "anchor": "start", "offset": 1, "fontSize": 10.5, "font": "Liberation Sans", "fontWeight": "normal", "color": "#3070c8"}},
    {"width": 7, "height": 1, "data": {"values": []}, "mark": "point"},
    {"width": 8, "height": 1, "data": {"values": []}, "mark": "point",
     "title": {"text": "3", "anchor": "start", "offset": 1, "fontSize": 10.5, "font": "Liberation Sans", "fontWeight": "normal", "color": "#000000"}}
  ]}
]
}
